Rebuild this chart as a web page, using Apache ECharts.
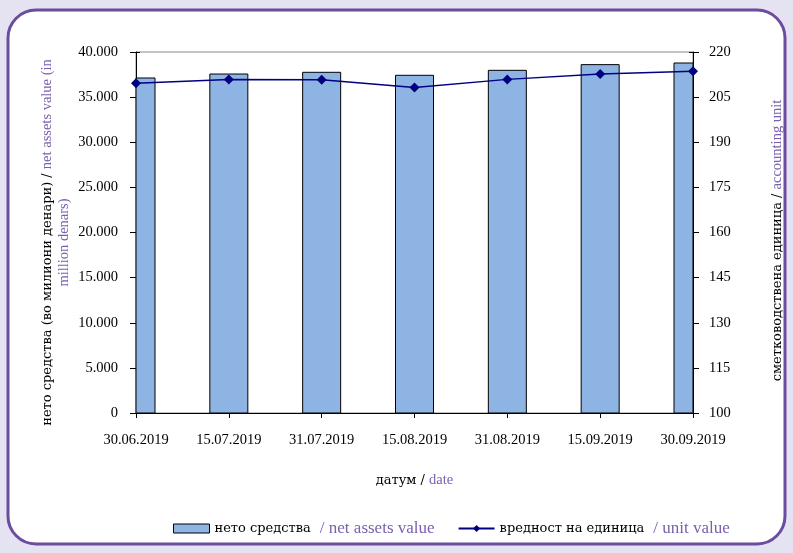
<!DOCTYPE html>
<html><head><meta charset="utf-8">
<script src="https://cdn.jsdelivr.net/npm/echarts@6/dist/echarts.min.js"></script>
<style>html,body{margin:0;padding:0;background:#E5E3F1;}#c{width:793px;height:553px;}</style>
</head><body><div id="c"></div>
<script>
const categories = ['30.06.2019','15.07.2019','31.07.2019','15.08.2019','31.08.2019','15.09.2019','30.09.2019'];
const netAssets = [37120, 37560, 37750, 37420, 37970, 38600, 38780];
const unitValue = [209.6, 210.9, 210.8, 208.2, 210.9, 212.7, 213.6];
const leftTicks = {min: 0, max: 40000, interval: 5000};
const rightTicks = {min: 100, max: 220, interval: 15};

const FONT = 'Liberation Serif';
const CYR = 'DejaVu Serif';
const PURPLE = '#7A60AE';
const BAR_FILL = '#8EB4E3';
const chart = echarts.init(document.getElementById('c'));
const fmtThousands = v => v === 0 ? '0' : String(v).replace(/\B(?=(\d{3})+(?!\d))/g, '.');
const axisLabelStyle = {color: '#000', fontFamily: FONT, fontSize: 14.5};
const rich = {
  a: {color: '#000', fontFamily: CYR, fontSize: 13, lineHeight: 17},
  b: {color: PURPLE, fontFamily: FONT, fontSize: 14.5, lineHeight: 17},
  bp: {color: PURPLE, fontFamily: FONT, fontSize: 17, padding: [0, 0, 0, 9]}
};
chart.setOption({
  backgroundColor: '#E5E3F1',
  animation: false,
  graphic: [{
    type: 'rect', z: -10, silent: true,
    shape: {x: 8, y: 10, width: 777, height: 534, r: 28},
    style: {fill: '#fff', stroke: '#6B4C9E', lineWidth: 3}
  }],
  grid: {left: 136, right: 99, top: 52, bottom: 140, show: true, borderColor: '#888', borderWidth: 1},
  legend: {
    left: 168, top: 515, itemGap: 23, itemWidth: 36, itemHeight: 9,
    textStyle: {rich: rich},
    formatter: n => n === 'нето средства' ? '{a|нето средства}{bp|/ net assets value}' : '{a|вредност на единица}{bp|/ unit value}',
    data: [
      {name: 'нето средства', icon: 'rect', itemStyle: {color: BAR_FILL, borderColor: '#000', borderWidth: 1}},
      {name: 'вредност на единица'}
    ]
  },
  xAxis: {
    type: 'category', data: categories, boundaryGap: false,
    axisLine: {lineStyle: {color: '#000', width: 1}},
    axisTick: {lineStyle: {color: '#000'}, length: 5},
    axisLabel: Object.assign({margin: 20, showMinLabel: true, showMaxLabel: true, interval: 0}, axisLabelStyle),
    name: '{a|датум / }{b|date}', nameLocation: 'middle', nameGap: 59,
    nameTextStyle: {rich: rich}
  },
  yAxis: [{
    type: 'value', position: 'left', min: leftTicks.min, max: leftTicks.max, interval: leftTicks.interval,
    axisLine: {show: true, lineStyle: {color: '#000'}},
    axisTick: {show: true, length: 6, lineStyle: {color: '#000'}},
    splitLine: {show: false},
    axisLabel: Object.assign({formatter: fmtThousands, margin: 18}, axisLabelStyle),
    name: '{a|нето средства (во милиони денари) / }{b|net assets value (in}\n{b|million denars)}',
    nameLocation: 'middle', nameRotate: 90, nameGap: 63, nameMoveOverlap: false,
    nameTextStyle: {rich: rich, lineHeight: 17, align: 'center', padding: [0, 20, 0, 0]}
  }, {
    type: 'value', position: 'right', min: rightTicks.min, max: rightTicks.max, interval: rightTicks.interval,
    axisLine: {show: true, lineStyle: {color: '#000'}},
    axisTick: {show: true, length: 6, lineStyle: {color: '#000'}},
    splitLine: {show: false},
    axisLabel: Object.assign({margin: 16}, axisLabelStyle),
    name: '{a|сметководствена единица / }{b|accounting unit}',
    nameLocation: 'middle', nameRotate: 90, nameGap: 76,
    nameTextStyle: {rich: rich, padding: [0, 16, 0, 0]}
  }, {
    type: 'value', position: 'left', min: leftTicks.min, max: leftTicks.max, interval: leftTicks.interval,
    axisLine: {show: false}, axisLabel: {show: false}, splitLine: {show: false},
    axisTick: {show: true, inside: true, length: 4, lineStyle: {color: '#000'}}
  }, {
    type: 'value', position: 'right', min: rightTicks.min, max: rightTicks.max, interval: rightTicks.interval,
    axisLine: {show: false}, axisLabel: {show: false}, splitLine: {show: false},
    axisTick: {show: true, inside: true, length: 4, lineStyle: {color: '#000'}}
  }],
  series: [{
    name: 'нето средства', type: 'custom', yAxisIndex: 0,
    data: netAssets.map((v, i) => [i, v]),
    encode: {x: 0, y: 1},
    itemStyle: {color: BAR_FILL, borderColor: '#000', borderWidth: 1},
    renderItem: function (params, api) {
      const top = api.coord([api.value(0), api.value(1)]);
      const base = api.coord([api.value(0), 0]);
      const w = 38;
      const cs = params.coordSys;
      const shape = echarts.graphic.clipRectByRect(
        {x: top[0] - w / 2, y: top[1], width: w, height: base[1] - top[1]},
        {x: cs.x, y: cs.y, width: cs.width, height: cs.height});
      if (!shape) return null;
      return {type: 'rect', shape: shape, style: {fill: BAR_FILL, stroke: '#000', lineWidth: 1}};
    },
    z: 1
  }, {
    name: 'вредност на единица', type: 'line', yAxisIndex: 1, data: unitValue,
    symbol: 'diamond', symbolSize: 10,
    lineStyle: {color: '#000080', width: 1.5},
    itemStyle: {color: '#000080'},
    z: 3
  }]
});
</script></body></html>
